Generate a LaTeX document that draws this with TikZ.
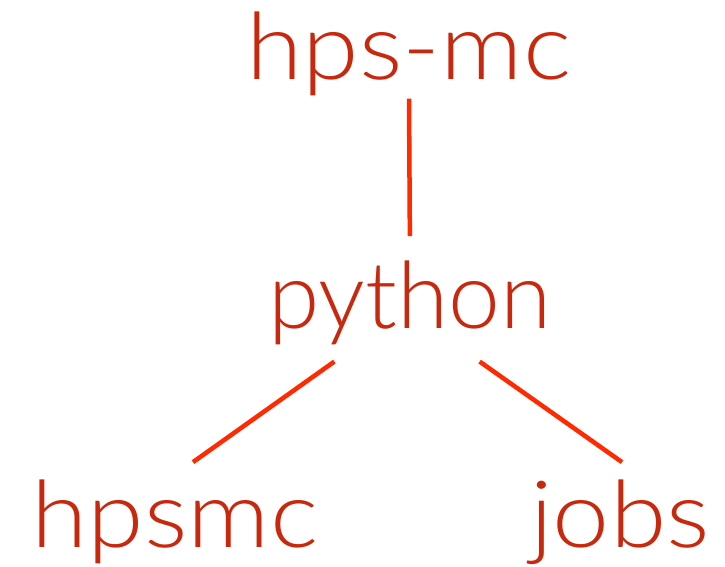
\documentclass[tikz,border=0pt]{standalone}
\usepackage{xcolor}
\usepackage{fontspec}
\setmainfont{Lato Light}
\newfontfamily\widefont{Lato Light}[FakeStretch=1.1]
\usepackage{tikz}

\definecolor{textred}{HTML}{C8290E}
\definecolor{linered}{HTML}{FF2A00}

\begin{document}
\begin{tikzpicture}[x=1pt, y=-1pt, every node/.style={font=\fontsize{93}{100}\selectfont, text=textred, inner sep=0pt, anchor=base},
    wide/.style={font=\fontsize{93}{100}\widefont}]
    \useasboundingbox (0,0) rectangle (725,567);

    % Top level
    \node[wide] (top) at (409,80) {hps-mc};

    % Middle level
    \node (python) at (410,328) {python};

    % Bottom level
    \node[wide] (hpsmc) at (175,547) {hpsmc};
    \node[wide] (jobs) at (620,547) {jobs};

    % Line ends
    \coordinate (pyleft) at ([xshift=66pt, yshift=-17pt]python.south west);
    \coordinate (pyright) at ([xshift=-72pt, yshift=-17pt]python.south east);
    \coordinate (hpsmctop) at ([xshift=18pt, yshift=17pt]hpsmc.north);
    \coordinate (jobstop) at ([xshift=2pt, yshift=17pt]jobs.north);

    % Edges
    \draw[linered, line width=4.5pt, shorten <=2pt, shorten >=24pt] (top.south) -- (python.north);
    \draw[linered, line width=4.5pt] (pyleft) -- (hpsmctop);
    \draw[linered, line width=4.5pt] (pyright) -- (jobstop);
\end{tikzpicture}
\end{document}
